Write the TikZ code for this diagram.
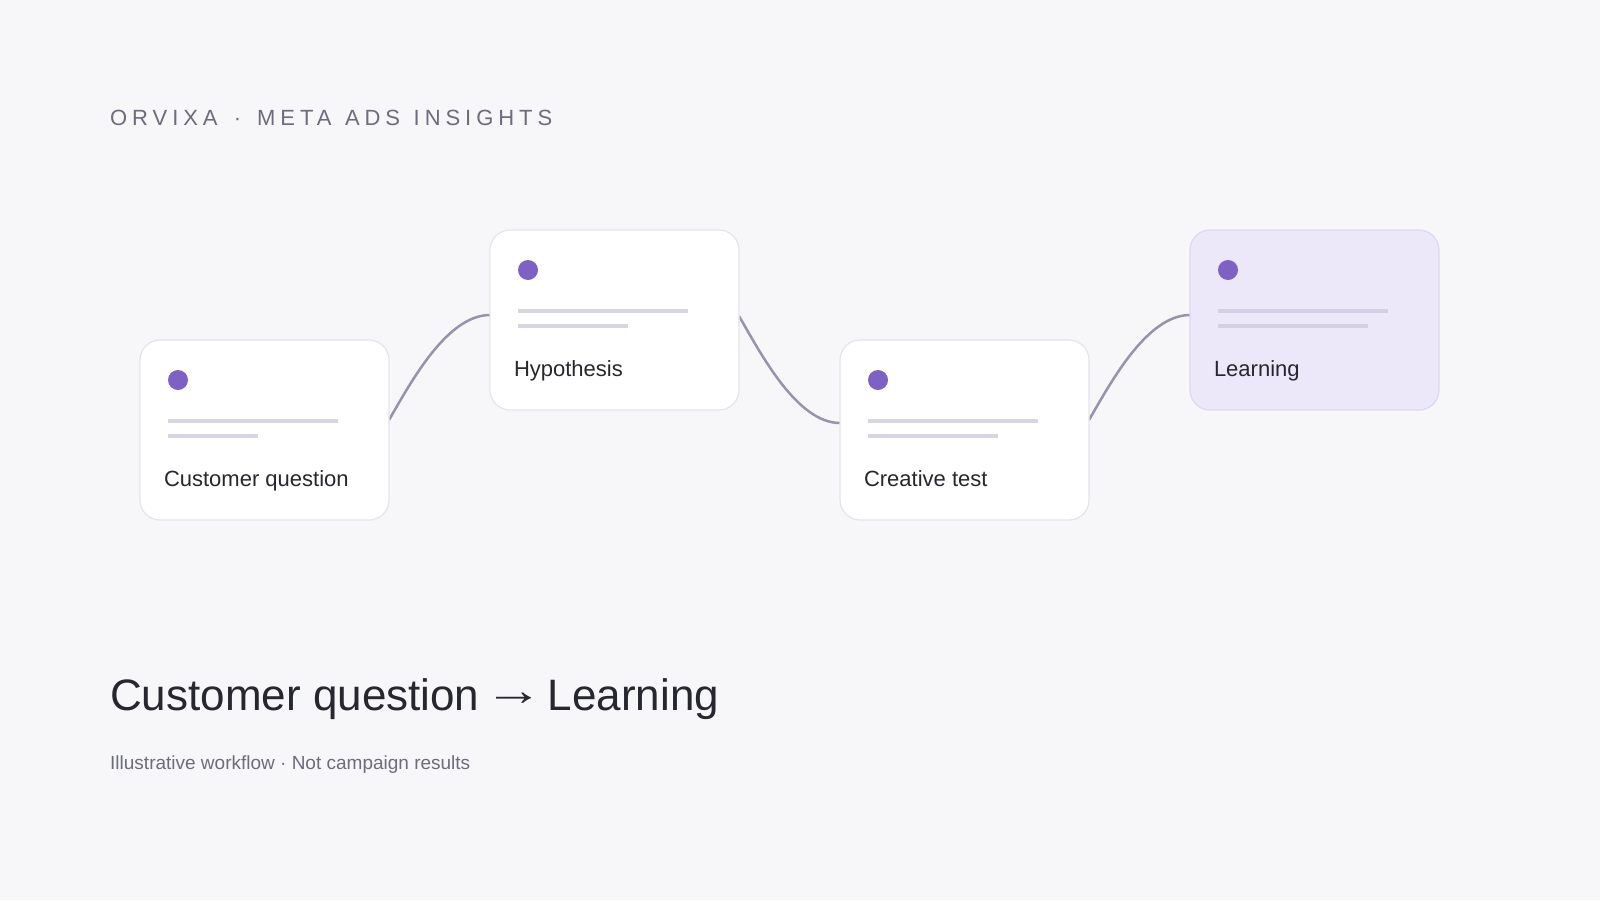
\documentclass[tikz,border=0pt]{standalone}
\usepackage{fontspec}
\setmainfont{Liberation Sans}
\usetikzlibrary{calc,backgrounds}
\definecolor{bg}{HTML}{F7F7F9}
\definecolor{cardline}{HTML}{E5E4EB}
\definecolor{lav}{HTML}{ECE7F9}
\definecolor{lavline}{HTML}{DED8F0}
\definecolor{dotc}{HTML}{7D62C4}
\definecolor{barc}{HTML}{D8D6E2}
\definecolor{barl}{HTML}{D4CFE4}
\definecolor{linkc}{HTML}{9892AA}
\definecolor{ink}{HTML}{27272F}
\definecolor{muted}{HTML}{6C6C7C}
\newsavebox{\arrbox}
\begin{document}
\begin{tikzpicture}[x=1pt,y=-1pt,
  card/.style={draw=cardline, fill=white, line width=1.2pt, rounded corners=20pt,
    minimum width=249pt, minimum height=180pt, anchor=north west, inner sep=0pt, outer sep=0pt},
  hlcard/.style={card, fill=lav, draw=lavline},
  dotnode/.style={circle, fill=dotc, minimum size=20pt, inner sep=0pt, outer sep=0pt},
  bar/.style={line width=4.5pt, draw=barc},
  lbar/.style={line width=4.5pt, draw=barl},
  cardlabel/.style={anchor=base west, inner sep=0pt, outer sep=0pt, font=\fontsize{22}{26}\selectfont, text=ink},
  link/.style={draw=linkc, line width=2.5pt}]
\useasboundingbox (0,0) rectangle (1600,900);

% header
\node[anchor=base west, inner sep=0pt, text=muted,
  font=\fontsize{22}{26}\selectfont\addfontfeature{LetterSpace=22.5}] (brand) at (110,125)
  {ORVIXA\hspace{5pt} · \hspace{5pt}META\hspace{2.5pt} ADS\hspace{2.5pt} INSIGHTS};

% cards
\node[card] (c1) at (140,340) {};
\node[card] (c2) at (490,230) {};
\node[card] (c3) at (840,340) {};
\node[hlcard] (c4) at (1190,230) {};

% card 1
\node[dotnode] (c1d) at ($(c1.north west)+(38,40)$) {};
\draw[bar] ($(c1.north west)+(28,81)$) -- ($(c1.north west)+(198,81)$);
\draw[bar] ($(c1.north west)+(28,96)$) -- ($(c1.north west)+(118,96)$);
\node[cardlabel] (c1t) at ($(c1.north west)+(24,146)$) {Customer question};

% card 2
\node[dotnode] (c2d) at ($(c2.north west)+(38,40)$) {};
\draw[bar] ($(c2.north west)+(28,81)$) -- ($(c2.north west)+(198,81)$);
\draw[bar] ($(c2.north west)+(28,96)$) -- ($(c2.north west)+(138,96)$);
\node[cardlabel] (c2t) at ($(c2.north west)+(24,146)$) {Hypothesis};

% card 3
\node[dotnode] (c3d) at ($(c3.north west)+(38,40)$) {};
\draw[bar] ($(c3.north west)+(28,81)$) -- ($(c3.north west)+(198,81)$);
\draw[bar] ($(c3.north west)+(28,96)$) -- ($(c3.north west)+(158,96)$);
\node[cardlabel] (c3t) at ($(c3.north west)+(24,146)$) {Creative test};

% card 4
\node[dotnode] (c4d) at ($(c4.north west)+(38,40)$) {};
\draw[lbar] ($(c4.north west)+(28,81)$) -- ($(c4.north west)+(198,81)$);
\draw[lbar] ($(c4.north west)+(28,96)$) -- ($(c4.north west)+(178,96)$);
\node[cardlabel] (c4t) at ($(c4.north west)+(24,146)$) {Learning};

% connector anchors
\coordinate (a1) at ($(c1.north east)+(0,80)$);
\coordinate (b1) at ($(c2.north west)+(0,85)$);
\coordinate (a2) at ($(c2.north east)+(0,86)$);
\coordinate (b2) at ($(c3.north west)+(0,83)$);
\coordinate (a3) at ($(c3.north east)+(0,80)$);
\coordinate (b3) at ($(c4.north west)+(0,85)$);

\begin{pgfonlayer}{background}
\fill[bg] (0,0) rectangle (1600,900);
\draw[link] (a1) .. controls ($(a1)+(22,-38)$) and ($(b1)+(-43,0)$) .. (b1);
\draw[link] (a2) .. controls ($(a2)+(22,38)$) and ($(b2)+(-43,0)$) .. (b2);
\draw[link] (a3) .. controls ($(a3)+(22,-38)$) and ($(b3)+(-43,0)$) .. (b3);
\end{pgfonlayer}

% footer
\node[anchor=base west, inner sep=0pt, text=ink, font=\fontsize{44}{52}\selectfont] (head) at (110,710)
  {\sbox{\arrbox}{→}Customer question \makebox[\wd\arrbox][c]{\raisebox{5pt}{\scalebox{1.34}[1]{→}}} Learning};
\node[anchor=base west, inner sep=0pt, text=muted, font=\fontsize{19}{23}\selectfont] (sub) at (110,769) {Illustrative workflow · Not campaign results};
\end{tikzpicture}
\end{document}
